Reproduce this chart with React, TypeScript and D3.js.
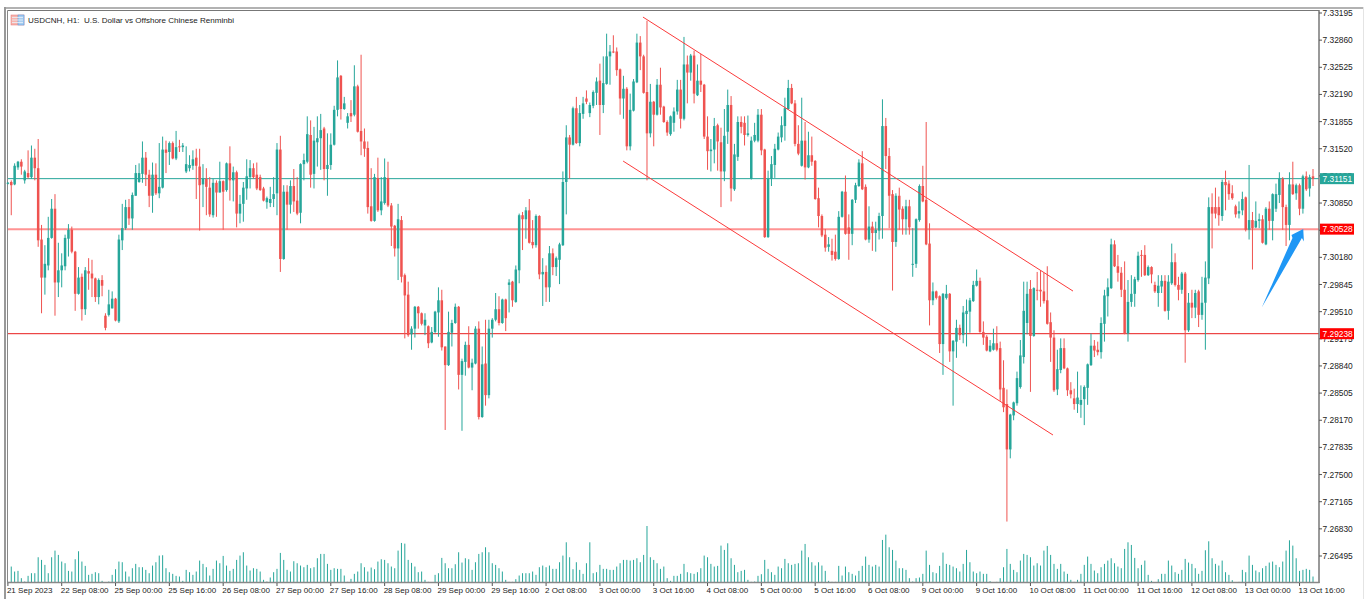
import React from "react";
import * as d3 from "d3";

// Prices are stored as pips above 7.0000 (3115 = 7.3115)
const opens = [
3109,3111,3108,3129,3136,3113,3122,3117,3141,3128,
3040,2993,3008,3042,3078,2987,3002,3007,3041,3052,
3025,2973,2994,2954,3001,2998,2992,2969,2990,2946,
2947,2955,2967,2939,3039,3054,3080,3066,3094,3111,
3121,3141,3120,3094,3120,3097,3104,3151,3148,3159,
3140,3155,3154,3124,3128,3131,3141,3130,3108,3115,
3104,3070,3110,3098,3112,3101,3134,3113,3123,3072,
3084,3103,3117,3128,3120,3117,3103,3086,3085,3090,
3097,3151,3016,3099,3083,3106,3088,3073,3133,3136,
3169,3121,3160,3165,3177,3127,3132,3157,3200,3242,
3201,3184,3196,3194,3229,3174,3161,3153,3081,3063,
3116,3076,3085,3116,3082,3057,3029,3064,2996,2972,
2923,2930,2957,2949,2934,2933,2913,2926,2950,2965,
2908,2885,2925,2937,2957,2873,2889,2910,2882,2887,
2930,2821,2887,2848,2930,2941,2954,2937,2966,2984,
2988,2963,3002,3070,3065,3076,3037,3033,3069,2997,
3000,2981,3023,3006,3015,3033,3111,3166,3157,3202,
3159,3195,3214,3196,3205,3221,3236,3206,3232,3266,
3272,3272,3250,3214,3226,3155,3199,3234,3283,3266,
3222,3171,3210,3194,3231,3204,3185,3170,3184,3198,
3225,3189,3256,3246,3267,3218,3236,3231,3167,3149,
3151,3181,3160,3124,3173,3206,3102,3142,3185,3184,
3169,3115,3162,3162,3194,3151,3043,3115,3132,3151,
3166,3180,3201,3227,3208,3158,3131,3162,3129,3144,
3137,3091,3069,3046,3031,3026,3025,3016,3068,3099,
3055,3047,3089,3106,3134,3105,3040,3056,3048,3051,
3069,3180,3143,3096,3037,3094,3078,3065,3081,3009,
3010,3064,3106,3089,3035,2965,2976,2970,2911,2968,
2973,2902,2914,2931,2922,2948,2951,2964,2983,2989,
2926,2920,2902,2904,2912,2906,2857,2837,2781,2823,
2838,2858,2895,2937,2979,2921,2978,2978,2976,2965,
2938,2919,2855,2879,2906,2881,2854,2844,2837,2836,
2843,2857,2885,2909,2904,2901,2936,2970,2980,3034,
3007,2999,2978,2924,2963,2973,2990,3021,3021,2996,
3006,2984,2974,2982,2989,2952,2986,3012,2984,2978,
2998,2928,2962,2956,2976,2947,2962,2992,3080,3080,
3080,3069,3111,3109,3097,3081,3072,3076,3092,3052,
3064,3055,3063,3065,3034,3078,3063,3078,3095,3115,
3080,3058,3108,3097,3107,3078,3118,3103,3118,
];

const highs = [
3111,3113,3134,3137,3139,3126,3150,3156,3152,3164,
3058,3033,3068,3090,3096,3036,3023,3046,3059,3056,
3026,3006,2998,3006,3017,3015,2993,2992,2996,2949,
2978,2976,2968,3046,3084,3089,3090,3098,3132,3134,
3161,3148,3126,3135,3134,3159,3167,3162,3161,3161,
3174,3163,3159,3155,3144,3150,3152,3152,3133,3128,
3117,3115,3113,3136,3113,3135,3155,3130,3125,3095,
3111,3139,3138,3134,3135,3120,3105,3093,3105,3117,
3159,3168,3107,3107,3113,3127,3117,3134,3146,3192,
3187,3179,3192,3195,3179,3171,3171,3205,3261,3243,
3216,3196,3212,3255,3231,3268,3177,3161,3128,3121,
3141,3117,3140,3136,3085,3058,3084,3069,2998,2988,
2933,2958,2958,2950,2949,2934,2932,2952,2981,2978,
2908,2951,2941,2961,2958,2893,2914,2933,2893,2933,
2939,2908,2941,2941,2943,2974,2970,2967,2967,2991,
2989,3008,3072,3074,3080,3090,3064,3071,3070,3017,
3008,3032,3029,3019,3036,3124,3181,3169,3204,3216,
3206,3216,3224,3209,3224,3240,3257,3266,3294,3280,
3292,3277,3251,3242,3228,3220,3238,3294,3291,3268,
3310,3232,3211,3238,3252,3205,3187,3193,3203,3237,
3237,3290,3267,3269,3273,3256,3269,3232,3192,3164,
3190,3183,3178,3201,3225,3217,3158,3192,3192,3192,
3193,3167,3184,3201,3201,3152,3125,3143,3158,3172,
3192,3215,3237,3232,3212,3181,3215,3185,3173,3167,
3138,3104,3071,3053,3043,3041,3046,3075,3100,3119,
3071,3090,3110,3139,3149,3108,3081,3062,3062,3073,
3213,3190,3153,3101,3097,3104,3081,3089,3089,3054,
3066,3108,3131,3185,3060,2987,2977,2971,2974,2984,
2974,2916,2941,2935,2958,2966,2968,2989,3003,2993,
2939,2922,2916,2930,2933,2914,2891,2855,2825,2840,
2877,2916,2988,2988,2990,2981,3000,3002,2999,3007,
2950,2928,2904,2918,2918,2882,2864,2856,2877,2860,
2860,2887,2924,2916,2914,2944,2978,2992,3041,3039,
3021,3006,3013,2990,2996,2994,3025,3027,3033,3008,
3007,2988,2996,2996,2996,2996,3035,3023,2994,3000,
3000,2974,2978,2978,2978,2994,3013,3092,3097,3104,
3093,3114,3125,3113,3107,3083,3087,3099,3093,3132,
3074,3087,3072,3070,3080,3087,3097,3109,3123,3117,
3083,3123,3136,3109,3109,3120,3124,3120,3127,
];

const lows = [
3108,3070,3107,3126,3120,3109,3115,3115,3113,3031,
2949,2972,3002,3041,2946,2969,2981,3002,3019,3023,
2952,2972,2940,2947,2978,2969,2963,2960,2970,2928,
2945,2955,2939,2937,3027,3052,3058,3052,3094,3110,
3110,3106,3080,3073,3095,3091,3103,3122,3132,3139,
3138,3148,3148,3122,3124,3126,3090,3051,3080,3070,
3068,3067,3068,3098,3052,3099,3088,3087,3055,3060,
3062,3089,3103,3115,3101,3100,3087,3078,3080,3080,
3070,3000,3015,3052,3072,3074,3070,3060,3113,3134,
3104,3103,3130,3126,3113,3094,3126,3156,3192,3188,
3200,3177,3185,3192,3172,3144,3142,3072,3062,3062,
3074,3070,3083,3080,3032,3019,2990,2987,2918,2920,
2904,2919,2930,2934,2922,2906,2912,2924,2920,2903,
2805,2884,2908,2936,2855,2804,2872,2881,2854,2886,
2818,2820,2835,2844,2919,2939,2934,2936,2927,2950,
2957,2962,2986,3027,3041,3035,3029,3030,2991,2958,
2963,2963,2996,2995,2985,3032,3071,3115,3156,3158,
3155,3189,3207,3191,3202,3206,3169,3196,3231,3231,
3270,3242,3194,3189,3150,3150,3198,3233,3249,3220,
3113,3166,3155,3193,3194,3184,3168,3168,3173,3194,
3177,3187,3208,3236,3208,3217,3222,3164,3126,3124,
3134,3125,3080,3112,3158,3087,3100,3137,3171,3156,
3167,3114,3160,3160,3144,3042,3042,3106,3116,3150,
3160,3162,3200,3207,3155,3144,3130,3114,3128,3131,
3089,3055,3043,3025,3025,3014,3014,3015,3067,3046,
3015,3033,3085,3105,3101,3039,3036,3026,3025,3040,
3041,3127,3054,2977,3031,3052,3046,3046,3046,2994,
3005,3062,3086,3033,2934,2959,2966,2900,2873,2966,
2889,2835,2894,2916,2912,2908,2925,2963,2982,2925,
2910,2902,2901,2903,2902,2841,2827,2692,2770,2817,
2835,2856,2887,2923,2852,2920,2965,2957,2961,2935,
2889,2852,2848,2875,2880,2847,2844,2830,2826,2820,
2811,2836,2884,2895,2897,2893,2914,2945,2979,3006,
2988,2969,2923,2914,2957,2957,2988,2994,2995,2995,
2986,2974,2957,2974,2951,2941,2984,2982,2965,2973,
2888,2926,2943,2943,2932,2941,2904,2985,3029,3066,
3057,3063,3076,3089,3089,3067,3066,3070,3050,3040,
3003,3054,3054,3035,3033,3052,3039,3074,3085,3052,
3032,3039,3095,3089,3070,3072,3100,3093,3106,
];

const closes = [
3110,3107,3131,3136,3130,3124,3117,3141,3128,3039,
2993,3010,3042,3078,2987,3002,3008,3042,3052,3025,
2973,2993,2954,3002,2998,2992,2969,2990,2983,2931,
2960,2967,2940,3040,3054,3080,3066,3095,3122,3122,
3141,3120,3094,3120,3097,3105,3151,3147,3159,3140,
3154,3154,3156,3133,3132,3139,3131,3107,3115,3105,
3071,3110,3098,3112,3099,3134,3113,3123,3072,3084,
3104,3118,3128,3117,3103,3101,3088,3091,3090,3096,
3151,3016,3099,3083,3106,3087,3072,3133,3138,3170,
3120,3162,3165,3175,3127,3132,3157,3200,3240,3201,
3208,3192,3192,3229,3173,3161,3152,3080,3063,3117,
3076,3087,3117,3082,3056,3029,3065,2994,2971,2922,
2930,2957,2949,2936,2941,2912,2926,2951,2965,2907,
2885,2926,2937,2957,2873,2890,2910,2882,2888,2930,
2821,2886,2848,2930,2941,2954,2937,2966,2943,2987,
2965,3003,3070,3065,3076,3036,3033,3069,2997,3000,
2981,3023,3006,3017,3034,3111,3166,3157,3202,3159,
3196,3208,3210,3206,3222,3235,3206,3233,3266,3272,
3271,3249,3214,3226,3155,3200,3235,3283,3266,3221,
3171,3210,3194,3231,3203,3185,3172,3192,3198,3225,
3189,3256,3246,3267,3220,3236,3231,3167,3149,3151,
3180,3161,3124,3168,3206,3103,3145,3185,3179,3169,
3171,3162,3169,3194,3150,3043,3115,3133,3152,3167,
3181,3202,3227,3208,3158,3146,3162,3129,3144,3136,
3090,3069,3045,3030,3034,3021,3016,3068,3099,3047,
3047,3089,3107,3135,3102,3040,3056,3048,3052,3069,
3180,3143,3094,3037,3094,3077,3065,3081,3055,3010,
3065,3106,3087,3034,2965,2976,2968,2911,2973,2973,
2902,2915,2931,2922,2950,2952,2965,2984,2989,2926,
2919,2903,2909,2912,2904,2855,2833,2781,2824,2839,
2869,2897,2952,2973,2921,2980,2977,2976,2964,2936,
2919,2854,2880,2906,2881,2854,2849,2837,2845,2842,
2858,2886,2909,2903,2901,2937,2971,2981,3034,3007,
2999,2978,2924,2963,2973,2991,3020,3020,2996,3006,
2997,2976,2983,2989,2952,2988,3012,2984,2978,2998,
2928,2962,2956,2974,2947,2962,2993,3080,3072,3072,
3070,3111,3107,3096,3091,3071,3075,3090,3052,3064,
3054,3063,3065,3036,3078,3063,3096,3096,3115,3080,
3058,3108,3096,3107,3078,3118,3102,3117,3115,
];

const volumes = [
2,48,33,35,13,3,20,28,28,76,
68,53,28,76,96,83,63,58,35,33,
70,94,63,50,23,26,31,28,5,1,
3,23,40,63,61,33,18,43,56,46,
46,38,28,51,61,81,82,43,31,26,
20,18,5,38,31,23,33,66,56,46,
21,41,66,58,80,51,35,41,68,81,
91,51,36,43,41,33,8,3,15,31,
41,89,68,38,33,64,58,51,46,53,
43,46,73,86,86,56,38,43,41,41,
21,2,11,26,33,58,46,33,45,40,
63,70,68,58,48,43,96,119,117,68,
59,48,31,33,8,2,1,23,28,74,
58,43,43,55,91,60,73,70,38,61,
86,91,106,91,58,53,43,33,8,2,
2,10,21,28,28,28,33,23,46,51,
46,51,41,41,61,81,121,76,40,61,
38,26,58,121,28,31,53,41,41,38,
38,48,58,68,68,66,68,73,61,83,
170,76,68,58,41,48,13,5,20,20,
26,56,31,28,26,31,43,81,76,56,
48,50,111,98,118,73,53,31,35,38,
8,2,3,20,25,68,41,31,23,48,
43,71,58,53,56,58,96,116,76,61,
51,61,51,35,5,2,2,50,21,48,
31,26,21,35,50,78,53,48,53,48,
128,144,106,98,66,43,43,38,13,3,
13,15,26,96,53,31,28,50,90,56,
53,48,43,33,56,98,61,33,28,33,
26,26,4,1,2,13,46,101,56,38,
31,66,86,83,76,51,58,51,96,110,
83,56,41,56,33,26,8,2,8,26,
53,78,56,36,28,46,56,66,73,58,
48,43,101,121,113,74,43,53,66,23,
5,1,10,26,26,66,51,31,26,38,
71,60,56,43,26,35,97,124,73,56,
51,66,31,23,7,1,2,38,31,81,
53,36,31,43,50,60,63,53,46,63,
96,127,111,73,35,38,41,38,18,
];

const priceTicks = [
"7.33195","7.32860","7.32525","7.32190","7.31855","7.31520","7.31185",
"7.30850","7.30515","7.30180","7.29845","7.29510","7.29175","7.28840",
"7.28505","7.28170","7.27835","7.27500","7.27165","7.26830","7.26495",
];

const timeLabels = [
"21 Sep 2023","22 Sep 08:00","25 Sep 00:00","25 Sep 16:00","26 Sep 08:00",
"27 Sep 00:00","27 Sep 16:00","28 Sep 08:00","29 Sep 00:00","29 Sep 16:00",
"2 Oct 08:00","3 Oct 00:00","3 Oct 16:00","4 Oct 08:00","5 Oct 00:00",
"5 Oct 16:00","6 Oct 08:00","9 Oct 00:00","9 Oct 16:00","10 Oct 08:00",
"11 Oct 00:00","11 Oct 16:00","12 Oct 08:00","13 Oct 00:00","13 Oct 16:00",
];
const barsPerLabel = 16;

const levelPrices = [7.31151, 7.30528, 7.29238];
const channelUpperBars = [188.8, 316.65];
const channelUpperPips = [3314.5, 2976.4];
const channelLowerBars = [182.9, 310.7];
const channelLowerPips = [3136.8, 2798.8];
const arrowBars = [372.8, 381.9, 381.6, 385.1, 385.3, 384.7];
const arrowPips = [2956.3, 3042, 3045.6, 3052.9, 3037.5, 3041.8];

const UP = "#26a69a";
const DOWN = "#ef5350";
const FONT = "'Liberation Sans', sans-serif";

const toPrice = (p: number) => 7 + p / 10000;

export default function App() {
  const x = d3.scaleLinear().domain([0, 388]).range([7.9, 1313]);
  const y = d3.scaleLinear().domain([7.33195, 7.26495]).range([13, 556]);
  const vol = d3.scaleLinear().domain([0, 170]).range([582.5, 526]);
  const line = d3.line<[number, number]>().x((d) => x(d[0])).y((d) => y(toPrice(d[1])));
  const pairs = (a: number[], b: number[]) => a.map((v, i) => [v, b[i]] as [number, number]);
  const levelColors = [UP, "#ff3b3b", "#e81c1c"];
  const levelWidths = [1, 2, 1];
  const levelOpacity = [1, 0.55, 1];
  const labelFill = [UP, "#ff0000", "#ff0000"];
  const txt = { fontFamily: FONT, fontSize: 8.4, fill: "#222" } as const;
  const txtSmall = { ...txt, fontSize: 8.05 };

  return (
    <svg
      width={1368}
      height={599}
      viewBox="0 0 1368 599"
      style={{ position: "absolute", left: 0, top: 0, display: "block", background: "#fff" }}
    >
      {/* window frame */}
      <line x1={1363.5} x2={1363.5} y1={7} y2={599} stroke="#e4e4e4" />
      <line x1={4} x2={1363} y1={8} y2={8} stroke="#999" strokeWidth={1.5} />
      <line x1={5} x2={5} y1={7} y2={599} stroke="#999" strokeWidth={2} />
      <line x1={7.5} x2={1319} y1={10.5} y2={10.5} stroke="#777" />
      <line x1={7.5} x2={7.5} y1={10.5} y2={583} stroke="#888" />

      {/* level lines */}
      {levelPrices.map((p, i) => (
        <line key={p} x1={8} x2={1319} y1={y(p)} y2={y(p)} stroke={levelColors[i]} strokeWidth={levelWidths[i]} opacity={levelOpacity[i]} />
      ))}

      {/* candles */}
      {opens.map((o, i) => {
        const c = closes[i];
        const color = c >= o ? UP : DOWN;
        const top = y(toPrice(Math.max(o, c)));
        const bot = y(toPrice(Math.min(o, c)));
        const cx = x(i);
        return (
          <g key={i}>
            <line x1={cx} x2={cx} y1={y(toPrice(highs[i]))} y2={y(toPrice(lows[i]))} stroke={color} strokeWidth={1} />
            <rect x={cx - 1.25} width={2.5} y={top} height={Math.max(bot - top, 1)} fill={color} />
          </g>
        );
      })}

      {/* volume */}
      {volumes.map((v, i) => (
        <line key={i} x1={x(i)} x2={x(i)} y1={vol(0)} y2={vol(v)} stroke={UP} strokeWidth={1} />
      ))}

      {/* channel */}
      <path d={line(pairs(channelUpperBars, channelUpperPips)) ?? ""} stroke="#fb3a3a" strokeWidth={1} fill="none" />
      <path d={line(pairs(channelLowerBars, channelLowerPips)) ?? ""} stroke="#fb3a3a" strokeWidth={1} fill="none" />

      {/* arrow */}
      <path d={(line(pairs(arrowBars, arrowPips)) ?? "") + "Z"} fill="#1f97f5" />

      {/* axes */}
      <line x1={1319} x2={1319} y1={10} y2={583} stroke="#777" strokeWidth={1.5} />
      <line x1={7} x2={1319.5} y1={582.5} y2={582.5} stroke="#888" strokeWidth={1.5} />

      {priceTicks.map((t) => (
        <g key={t}>
          <line x1={1319} x2={1322} y1={y(+t)} y2={y(+t)} stroke="#555" />
          <text x={1322.5} y={y(+t) + 3} {...txt}>{t}</text>
        </g>
      ))}

      {levelPrices.map((p, i) => (
        <g key={p}>
          <rect x={1320} y={y(p) - 5.5} width={34} height={11} fill={labelFill[i]} />
          <text x={1322.5} y={y(p) + 3} {...txt} fill="#fff">{p.toFixed(5)}</text>
        </g>
      ))}

      {timeLabels.map((t, i) => (
        <g key={t}>
          <line x1={x(i * barsPerLabel)} x2={x(i * barsPerLabel)} y1={583} y2={586} stroke="#555" />
          <text x={x(i * barsPerLabel) - 1} y={593} {...txtSmall}>{t}</text>
        </g>
      ))}

      {/* title with icon */}
      <g>
        <rect x={11} y={15} width={13} height={10} fill="#f7b5ae" stroke="#e57373" strokeWidth={0.5} />
        <rect x={18} y={15} width={6} height={10} fill="#a8cdf0" stroke="#4a90d9" strokeWidth={0.5} />
        {[17.5, 20, 22.5].map((d) => (
          <line key={d} x1={12} x2={23} y1={d} y2={d} stroke="#e9f1fa" strokeWidth={0.8} />
        ))}
        <text x={28} y={23} {...txtSmall} style={{ whiteSpace: "pre" }}>USDCNH, H1:  U.S. Dollar vs Offshore Chinese Renminbi</text>
      </g>
    </svg>
  );
}
